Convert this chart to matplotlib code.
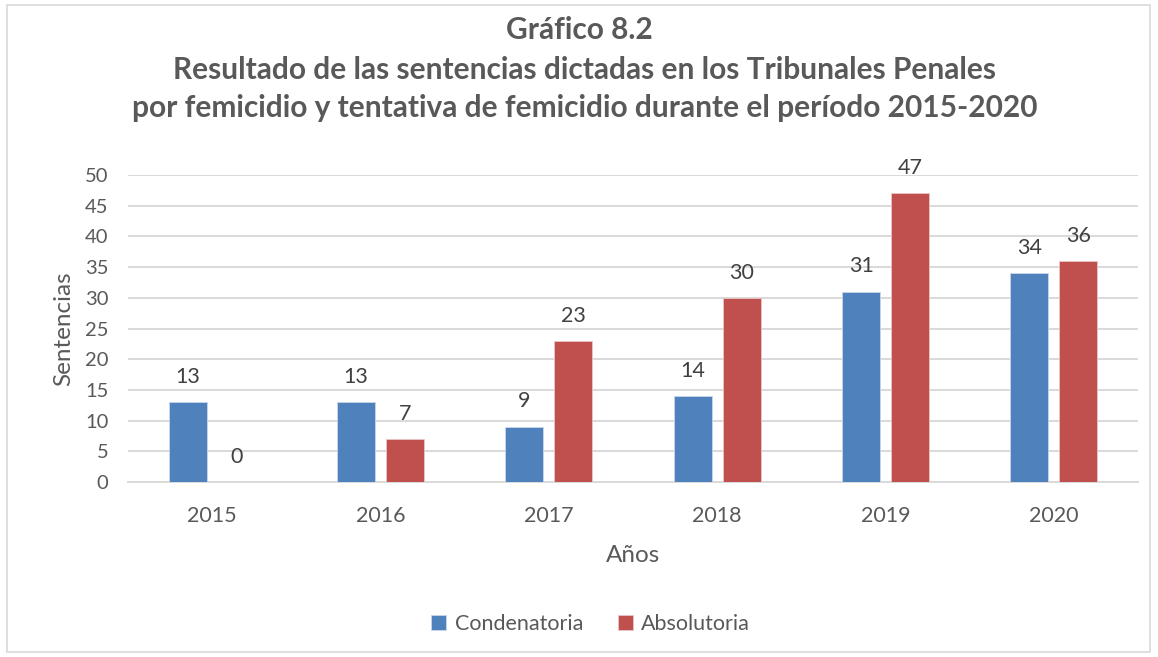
import numpy as np
import matplotlib
matplotlib.use("Agg")
from matplotlib import pyplot as plt
from matplotlib.patches import Rectangle

# datos del gráfico
years = ["2015", "2016", "2017", "2018", "2019", "2020"]
condenatoria = [13, 13, 9, 14, 31, 34]
absolutoria = [0, 7, 23, 30, 47, 36]
yticks = [0, 5, 10, 15, 20, 25, 30, 35, 40, 45, 50]

plt.rcParams['font.family'] = ['Lato', 'DejaVu Sans']

blue = "#4F81BD"
red = "#C0504D"
grey_txt = "#595959"

fig = plt.figure(figsize=(11.58, 6.57), dpi=100)
ax = fig.add_axes([128 / 1158, 1 - 482 / 657, 1010 / 1158, 307 / 657])

x = np.arange(len(years))
w = 0.226
off = 0.145
b1 = ax.bar(x - off, condenatoria, w, color=blue, edgecolor="#C9D6EA", linewidth=0.6,
            label="Condenatoria", zorder=3)
b2 = ax.bar(x + off, absolutoria, w, color=red, edgecolor="#EBC6C5", linewidth=0.6,
            label="Absolutoria", zorder=3)

for bars, vals in ((b1, condenatoria), (b2, absolutoria)):
    for rect, v in zip(bars, vals):
        ax.annotate(str(v), (rect.get_x() + rect.get_width() / 2, v),
                    xytext=(0, 11), textcoords="offset points",
                    ha="center", va="bottom", fontsize=15.5, color="#404040")

ax.set_xlim(-0.5, len(years) - 0.5)
ax.set_ylim(0, 50)
ax.set_yticks(yticks)
ax.set_xticks(x)
ax.set_xticklabels(years)
ax.tick_params(axis="both", length=0, colors=grey_txt)
ax.tick_params(axis="y", pad=14, labelsize=14.5)
ax.tick_params(axis="x", pad=17, labelsize=15.5)
ax.grid(axis="y", color="#D9D9D9", linewidth=1.4, zorder=0)
for s in ("top", "right", "left"):
    ax.spines[s].set_visible(False)
ax.spines["bottom"].set_color("#D9D9D9")
ax.spines["bottom"].set_linewidth(1.4)

ax.set_xlabel("Años", fontsize=17.5, color=grey_txt, labelpad=14)
ax.set_ylabel("Sentencias", fontsize=17.5, color=grey_txt, labelpad=8)

fig.text(0.5, 1 - 30 / 657, "Gráfico 8.2", ha="center", va="center",
         fontsize=21.5, fontweight="bold", color=grey_txt)
fig.text(0.505, 1 - 70 / 657, "Resultado de las sentencias dictadas en los Tribunales Penales",
         ha="center", va="center", fontsize=21.5, fontweight="bold", color=grey_txt)
fig.text(0.505, 1 - 108 / 657, "por femicidio y tentativa de femicidio durante el período 2015-2020",
         ha="center", va="center", fontsize=21.5, fontweight="bold", color=grey_txt)

fig.legend(handles=[b1, b2], loc="center", bbox_to_anchor=(0.51, 1 - 624 / 657),
           ncol=2, frameon=False, fontsize=15.5, handlelength=0.7, handleheight=0.7,
           columnspacing=1.6, handletextpad=0.4, labelcolor=grey_txt)

fig.patches.append(Rectangle((7 / 1158, 5 / 657), 1143 / 1158, 647 / 657,
                             transform=fig.transFigure, fill=False,
                             edgecolor="#D9D9D9", linewidth=1.2))

fig.savefig("out.png", dpi=100)
